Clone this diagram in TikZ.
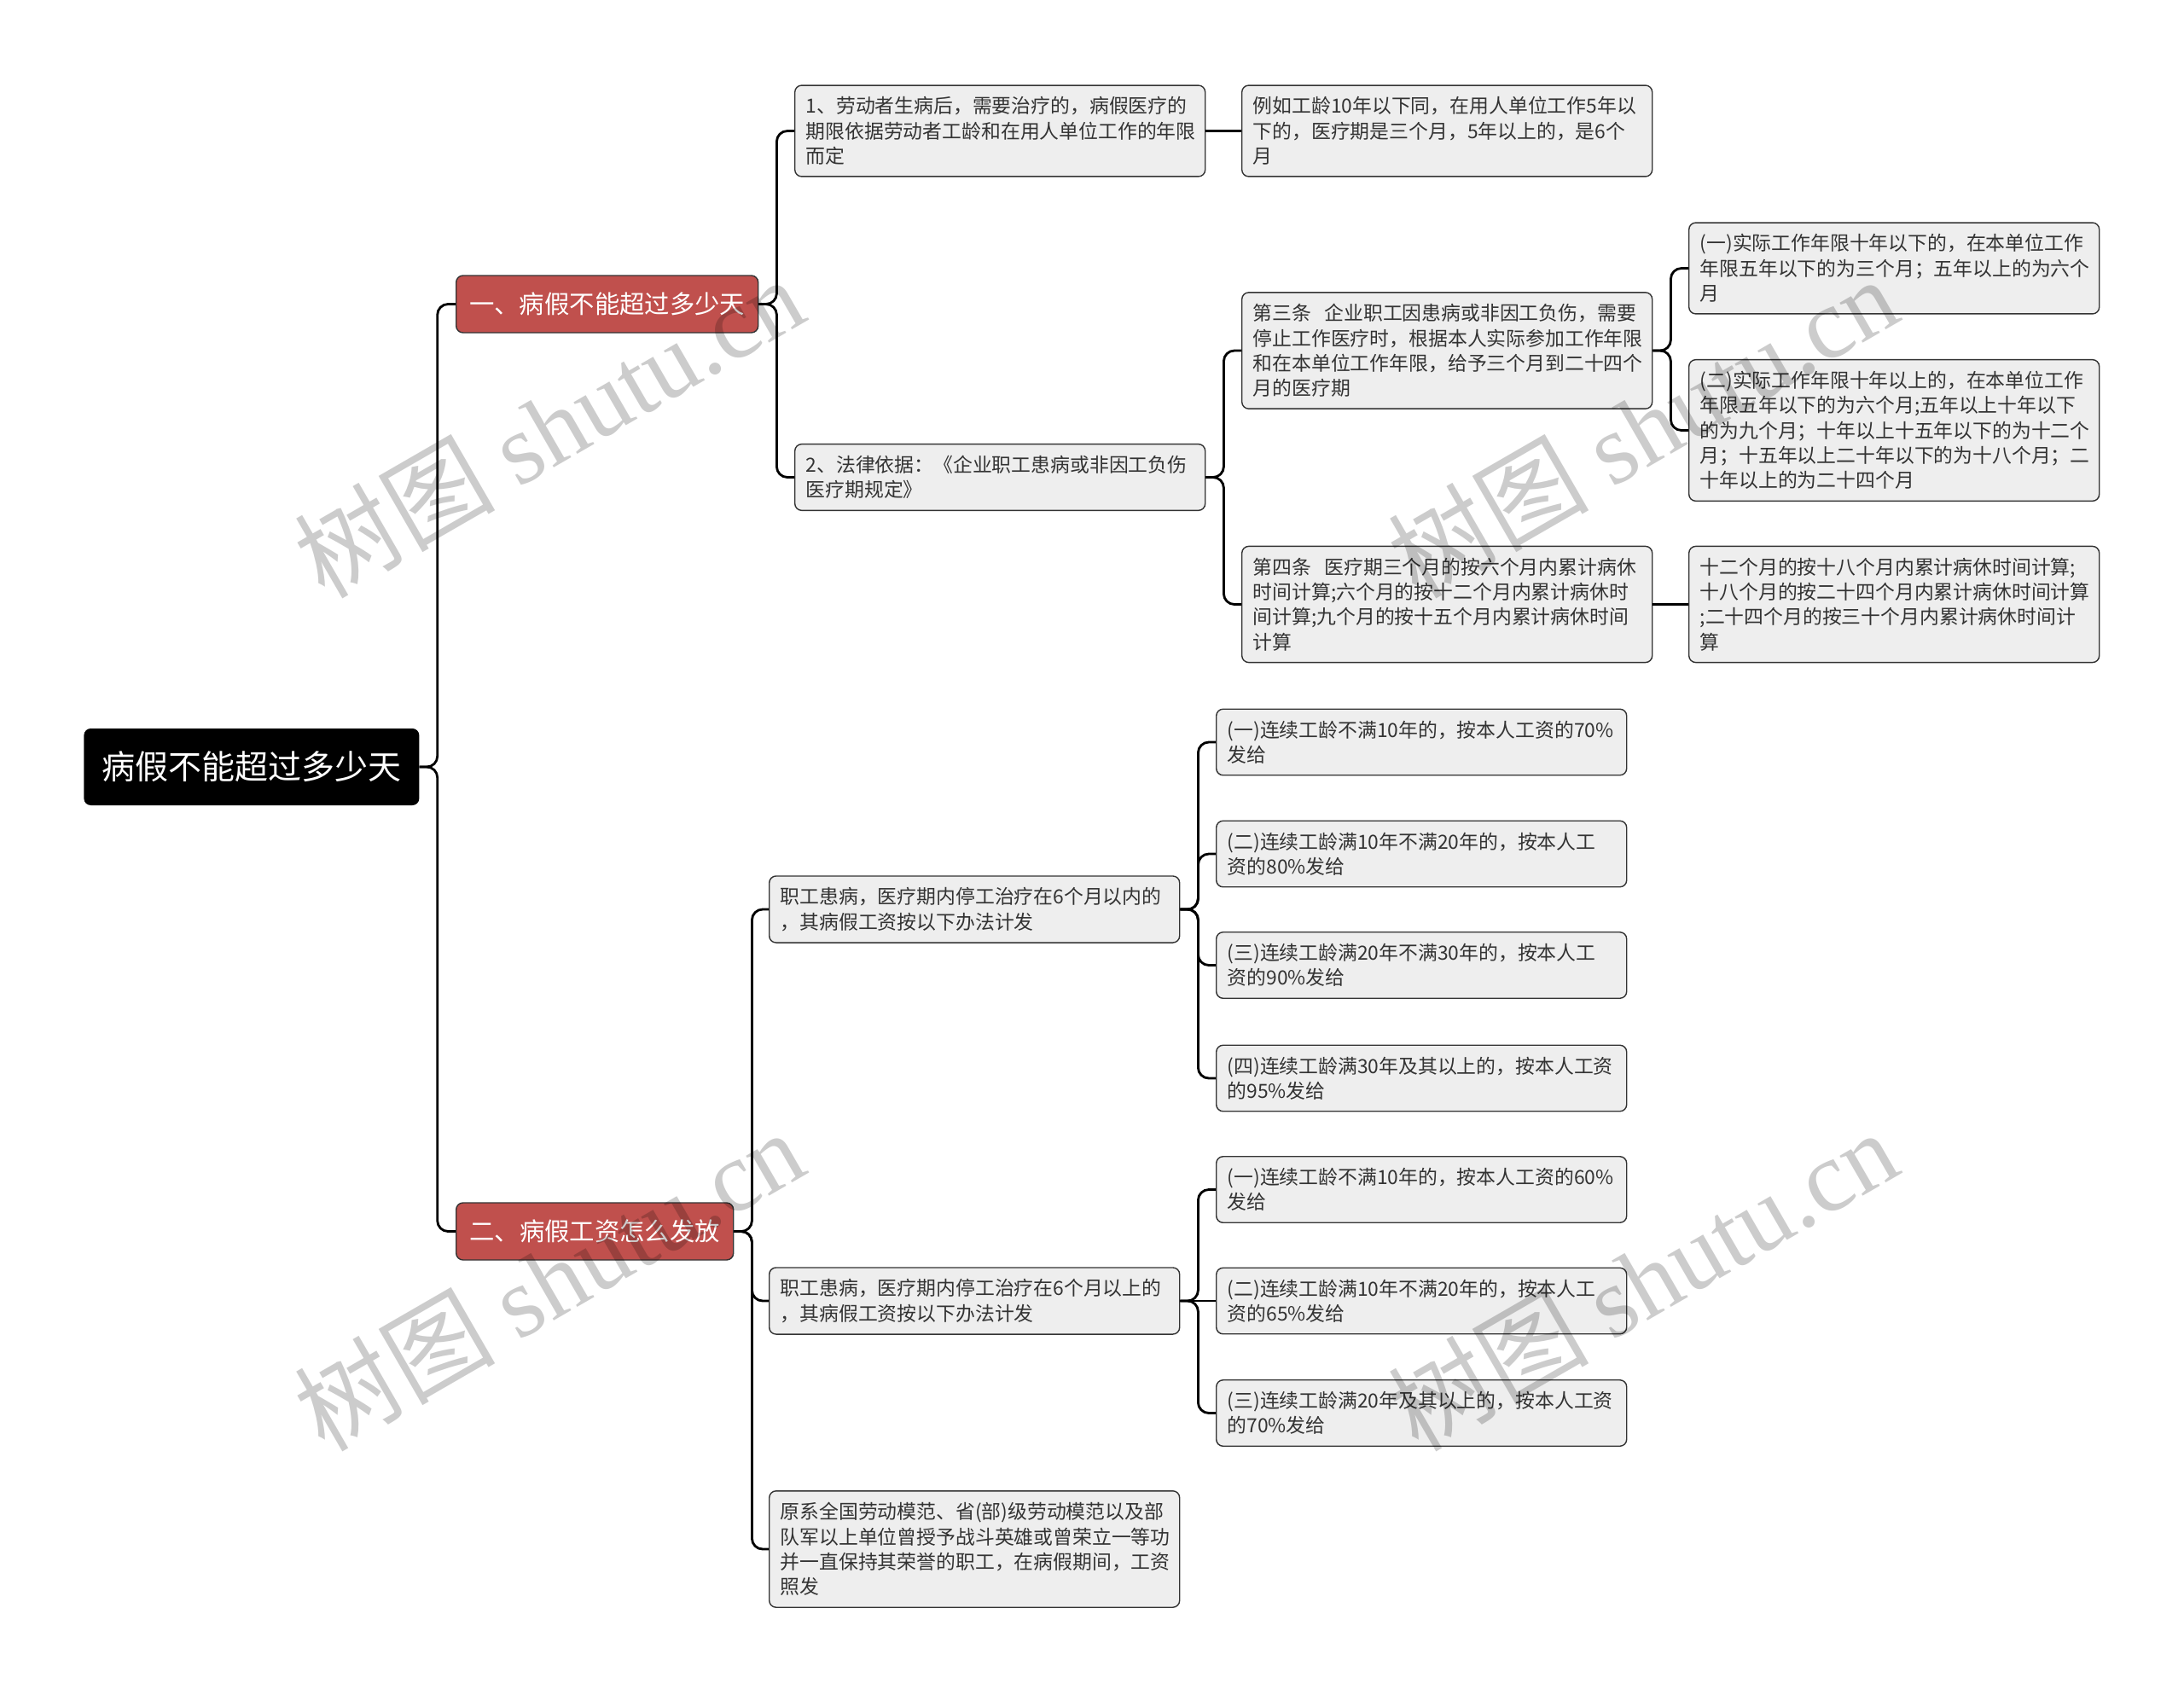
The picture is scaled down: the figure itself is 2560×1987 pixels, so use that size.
\documentclass[tikz,border=0pt]{standalone}
\usepackage{fontspec}
\setmainfont{Noto Sans CJK SC}
\newfontfamily\wmfont{Liberation Serif}
\definecolor{boxfill}{HTML}{EEEEEE}
\definecolor{boxline}{HTML}{333333}
\definecolor{redfill}{HTML}{C0504D}

\begin{document}
\begin{tikzpicture}
        [x=0.2mm, y=-0.2mm,
        root/.style={anchor=west, fill=black, text=white, rounded corners=1.6mm, minimum width=78.6mm, minimum height=18mm, font=\fontsize{22.2}{26}\selectfont},
        topic/.style={anchor=west, fill=redfill, draw=boxline, line width=0.8pt, text=white, rounded corners=1.6mm, minimum height=13.4mm, inner xsep=0pt, font=\fontsize{16.7}{20}\selectfont},
        leaf/.style={anchor=west, fill=boxfill, draw=boxline, line width=0.8pt, text=boxline, rounded corners=1.6mm, align=left, text width=91mm, inner xsep=2.6mm, inner ysep=2.7mm, font=\fontsize{13}{16.7}\selectfont},
        link/.style={line width=1.6pt, black, rounded corners=2.5mm},
        wm/.style={rotate=30, text=black, text opacity=0.2, font=\fontsize{67}{67}\selectfont}]

        \useasboundingbox (0,0) rectangle (2560,1987);

        % root and main branches
        \node[root] (root) at (98,899) {病假不能超过多少天};
        \node[topic, minimum width=70.8mm] (b1) at (534,356.5) {一、病假不能超过多少天};
        \node[topic, minimum width=65mm] (b2) at (534,1443.5) {二、病假工资怎么发放};

        % first branch
        \node[leaf] (n11) at (931,153.5) {1、劳动者生病后，需要治疗的，病假医疗的\\期限依据劳动者工龄和在用人单位工作的年限\\而定};
        \node[leaf] (n111) at (1455,153.5) {例如工龄10年以下同，在用人单位工作5年以\\下的，医疗期是三个月，5年以上的，是6个\\月};
        \node[leaf] (n12) at (931,559.5) {2、法律依据：《企业职工患病或非因工负伤\\医疗期规定》};
        \node[leaf] (n121) at (1455,411) {第三条\ \ 企业职工因患病或非因工负伤，需要\\停止工作医疗时，根据本人实际参加工作年限\\和在本单位工作年限，给予三个月到二十四个\\月的医疗期};
        \node[leaf] (n122) at (1455,708.5) {第四条\ \ 医疗期三个月的按六个月内累计病休\\时间计算;六个月的按十二个月内累计病休时\\间计算;九个月的按十五个月内累计病休时间\\计算};
        \node[leaf] (n1211) at (1979,314.5) {(一)实际工作年限十年以下的，在本单位工作\\年限五年以下的为三个月；五年以上的为六个\\月};
        \node[leaf] (n1212) at (1979,504.5) {(二)实际工作年限十年以上的，在本单位工作\\年限五年以下的为六个月;五年以上十年以下\\的为九个月；十年以上十五年以下的为十二个\\月；十五年以上二十年以下的为十八个月；二\\十年以上的为二十四个月};
        \node[leaf] (n1221) at (1979,708.5) {十二个月的按十八个月内累计病休时间计算;\\十八个月的按二十四个月内累计病休时间计算\\;二十四个月的按三十个月内累计病休时间计\\算};

        % second branch
        \node[leaf] (n21) at (901,1066) {职工患病，医疗期内停工治疗在6个月以内的\\，其病假工资按以下办法计发};
        \node[leaf] (n22) at (901,1525) {职工患病，医疗期内停工治疗在6个月以上的\\，其病假工资按以下办法计发};
        \node[leaf] (n23) at (901,1816) {原系全国劳动模范、省(部)级劳动模范以及部\\队军以上单位曾授予战斗英雄或曾荣立一等功\\并一直保持其荣誉的职工，在病假期间，工资\\照发};
        \node[leaf] (n211) at (1425,870) {(一)连续工龄不满10年的，按本人工资的70\%\\发给};
        \node[leaf] (n212) at (1425,1001) {(二)连续工龄满10年不满20年的，按本人工\\资的80\%发给};
        \node[leaf] (n213) at (1425,1131.5) {(三)连续工龄满20年不满30年的，按本人工\\资的90\%发给};
        \node[leaf] (n214) at (1425,1264) {(四)连续工龄满30年及其以上的，按本人工资\\的95\%发给};
        \node[leaf] (n221) at (1425,1394.5) {(一)连续工龄不满10年的，按本人工资的60\%\\发给};
        \node[leaf] (n222) at (1425,1525) {(二)连续工龄满10年不满20年的，按本人工\\资的65\%发给};
        \node[leaf] (n223) at (1425,1656.5) {(三)连续工龄满20年及其以上的，按本人工资\\的70\%发给};

        % connectors
        \draw[link] (root.east) -- ++(21,0) |- (b1.west);
        \draw[link] (root.east) -- ++(21,0) |- (b2.west);
        \draw[link] (b1.east) -- ++(21,0) |- (n11.west);
        \draw[link] (b1.east) -- ++(21,0) |- (n12.west);
        \draw[link] (n11.east) -- (n111.west);
        \draw[link] (n12.east) -- ++(21,0) |- (n121.west);
        \draw[link] (n12.east) -- ++(21,0) |- (n122.west);
        \draw[link] (n121.east) -- ++(21,0) |- (n1211.west);
        \draw[link] (n121.east) -- ++(21,0) |- (n1212.west);
        \draw[link] (n122.east) -- (n1221.west);
        \draw[link] (b2.east) -- ++(21,0) |- (n21.west);
        \draw[link] (b2.east) -- ++(21,0) |- (n22.west);
        \draw[link] (b2.east) -- ++(21,0) |- (n23.west);
        \foreach \k in {n211,n212,n213,n214}
          \draw[link] (n21.east) -- ++(21,0) |- (\k.west);
        \draw[link] (n22.east) -- ++(21,0) |- (n221.west);
        \draw[link] (n22.east) -- (n222.west);
        \draw[link] (n22.east) -- ++(21,0) |- (n223.west);

        % watermark
        \node[wm] (wm1) at (643,500) {树图 {\wmfont shutu.cn}};
        \node[wm] (wm2) at (1925,500) {树图 {\wmfont shutu.cn}};
        \node[wm] (wm3) at (643,1500) {树图 {\wmfont shutu.cn}};
        \node[wm] (wm4) at (1925,1500) {树图 {\wmfont shutu.cn}};

\end{tikzpicture}
\end{document}
